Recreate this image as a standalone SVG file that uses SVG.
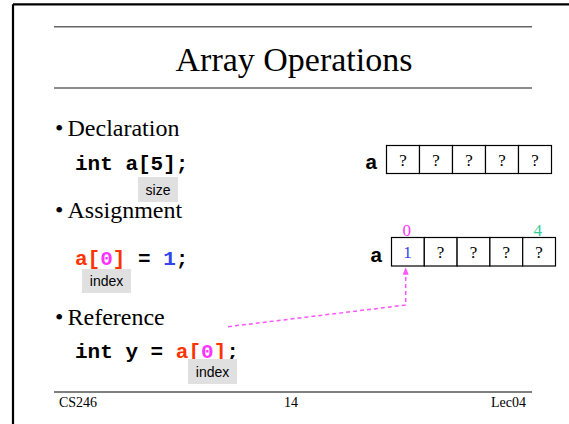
<svg xmlns="http://www.w3.org/2000/svg" width="569" height="424" viewBox="0 0 569 424">
<defs>
<style>
.serif{font-family:"Liberation Serif","Times New Roman",serif;fill:#000}
.code{font-family:"Liberation Mono","Courier New",monospace;font-weight:bold;font-size:21px;fill:#000}
.tag{font-family:"Liberation Sans",Arial,sans-serif;font-size:14px;fill:#000}
.tagbox{fill:#e0e0e0}
.cell{fill:#fff;stroke:#000;stroke-width:1.2}
.q{font-family:"Liberation Serif","Times New Roman",serif;font-size:17px;text-anchor:middle;fill:#000}
.red{fill:#ff3300}
.pink{fill:#ff33ff}
.blue{fill:#3344ee}
</style>
<marker id="ah" viewBox="0 0 10 10" refX="9" refY="5" markerWidth="5" markerHeight="5" orient="auto">
<path d="M0,1 L10,5 L0,9 z" fill="#ff55ff"/>
</marker>
</defs>
<rect width="569" height="424" fill="#fff"/>
<g id="frame">
<line x1="13" y1="4.3" x2="569" y2="4.3" stroke="#000" stroke-width="2.2"/>
<line x1="13" y1="4.3" x2="13" y2="424" stroke="#000" stroke-width="2.2"/>
<line x1="54" y1="26.7" x2="532" y2="26.7" stroke="#666" stroke-width="1.5"/>
<line x1="54" y1="88" x2="532" y2="88" stroke="#666" stroke-width="1.5"/>
<line x1="54" y1="392" x2="532" y2="392" stroke="#000" stroke-width="1.2"/>
</g>
<g id="title"><text class="serif" x="294" y="71" font-size="34" text-anchor="middle">Array Operations</text></g>
<g id="bullets">
<text class="serif" x="55" y="136" font-size="24">•</text><text class="serif" x="67.5" y="136" font-size="24">Declaration</text>
<text class="serif" x="55" y="218" font-size="24">•</text><text class="serif" x="67.5" y="218" font-size="24">Assignment</text>
<text class="serif" x="55" y="325" font-size="24">•</text><text class="serif" x="67.5" y="325" font-size="24">Reference</text>
</g>
<g id="decl">
<text class="code" x="75" y="170">int a[5];</text>
<rect class="tagbox" x="138" y="177" width="40" height="25"/>
<text class="tag" x="158" y="195" text-anchor="middle">size</text>
</g>
<g id="assign">
<text class="code" x="75" y="265"><tspan class="red">a[</tspan><tspan class="pink">0</tspan><tspan class="red">]</tspan> = <tspan class="blue">1</tspan>;</text>
<rect class="tagbox" x="82" y="269" width="49" height="24"/>
<text class="tag" x="106.5" y="286" text-anchor="middle">index</text>
</g>
<g id="ref">
<text class="code" x="75" y="358">int y = <tspan class="red">a[</tspan><tspan class="pink">0</tspan><tspan class="red">]</tspan>;</text>
<rect class="tagbox" x="188" y="359" width="49" height="25"/>
<text class="tag" x="212.5" y="377" text-anchor="middle">index</text>
</g>
<g id="array1">
<text class="code" x="365" y="169">a</text>
<rect class="cell" x="386.5" y="145.5" width="33" height="28"/>
<rect class="cell" x="419.5" y="145.5" width="33" height="28"/>
<rect class="cell" x="452.5" y="145.5" width="33" height="28"/>
<rect class="cell" x="485.5" y="145.5" width="33" height="28"/>
<rect class="cell" x="518.5" y="145.5" width="33" height="28"/>
<text class="q" x="403" y="166">?</text>
<text class="q" x="436" y="166">?</text>
<text class="q" x="469" y="166">?</text>
<text class="q" x="502" y="166">?</text>
<text class="q" x="535" y="166">?</text>
</g>
<g id="array2">
<text class="code" x="370" y="262">a</text>
<rect class="cell" x="391.5" y="237.5" width="32.8" height="28.5"/>
<rect class="cell" x="424.3" y="237.5" width="32.8" height="28.5"/>
<rect class="cell" x="457.1" y="237.5" width="32.8" height="28.5"/>
<rect class="cell" x="489.9" y="237.5" width="32.8" height="28.5"/>
<rect class="cell" x="522.7" y="237.5" width="32.8" height="28.5"/>
<text class="q blue" x="407.5" y="258">1</text>
<text class="q" x="440.5" y="258">?</text>
<text class="q" x="473.5" y="258">?</text>
<text class="q" x="506.3" y="258">?</text>
<text class="q" x="539" y="258">?</text>
<text class="q" x="406.7" y="236" style="fill:#ff33ff">0</text>
<text class="q" x="537.7" y="236" style="fill:#33cc99">4</text>
</g>
<g id="connectors">
<path d="M228,326.7 L405.7,305 L405.7,268" fill="none" stroke="#ff55ff" stroke-width="1.5" stroke-dasharray="4,3" marker-end="url(#ah)"/>
</g>
<g id="footer">
<text class="serif" x="59" y="407" font-size="14">CS246</text>
<text class="serif" x="291" y="407" font-size="14" text-anchor="middle">14</text>
<text class="serif" x="526" y="407" font-size="14" text-anchor="end">Lec04</text>
</g>
</svg>
